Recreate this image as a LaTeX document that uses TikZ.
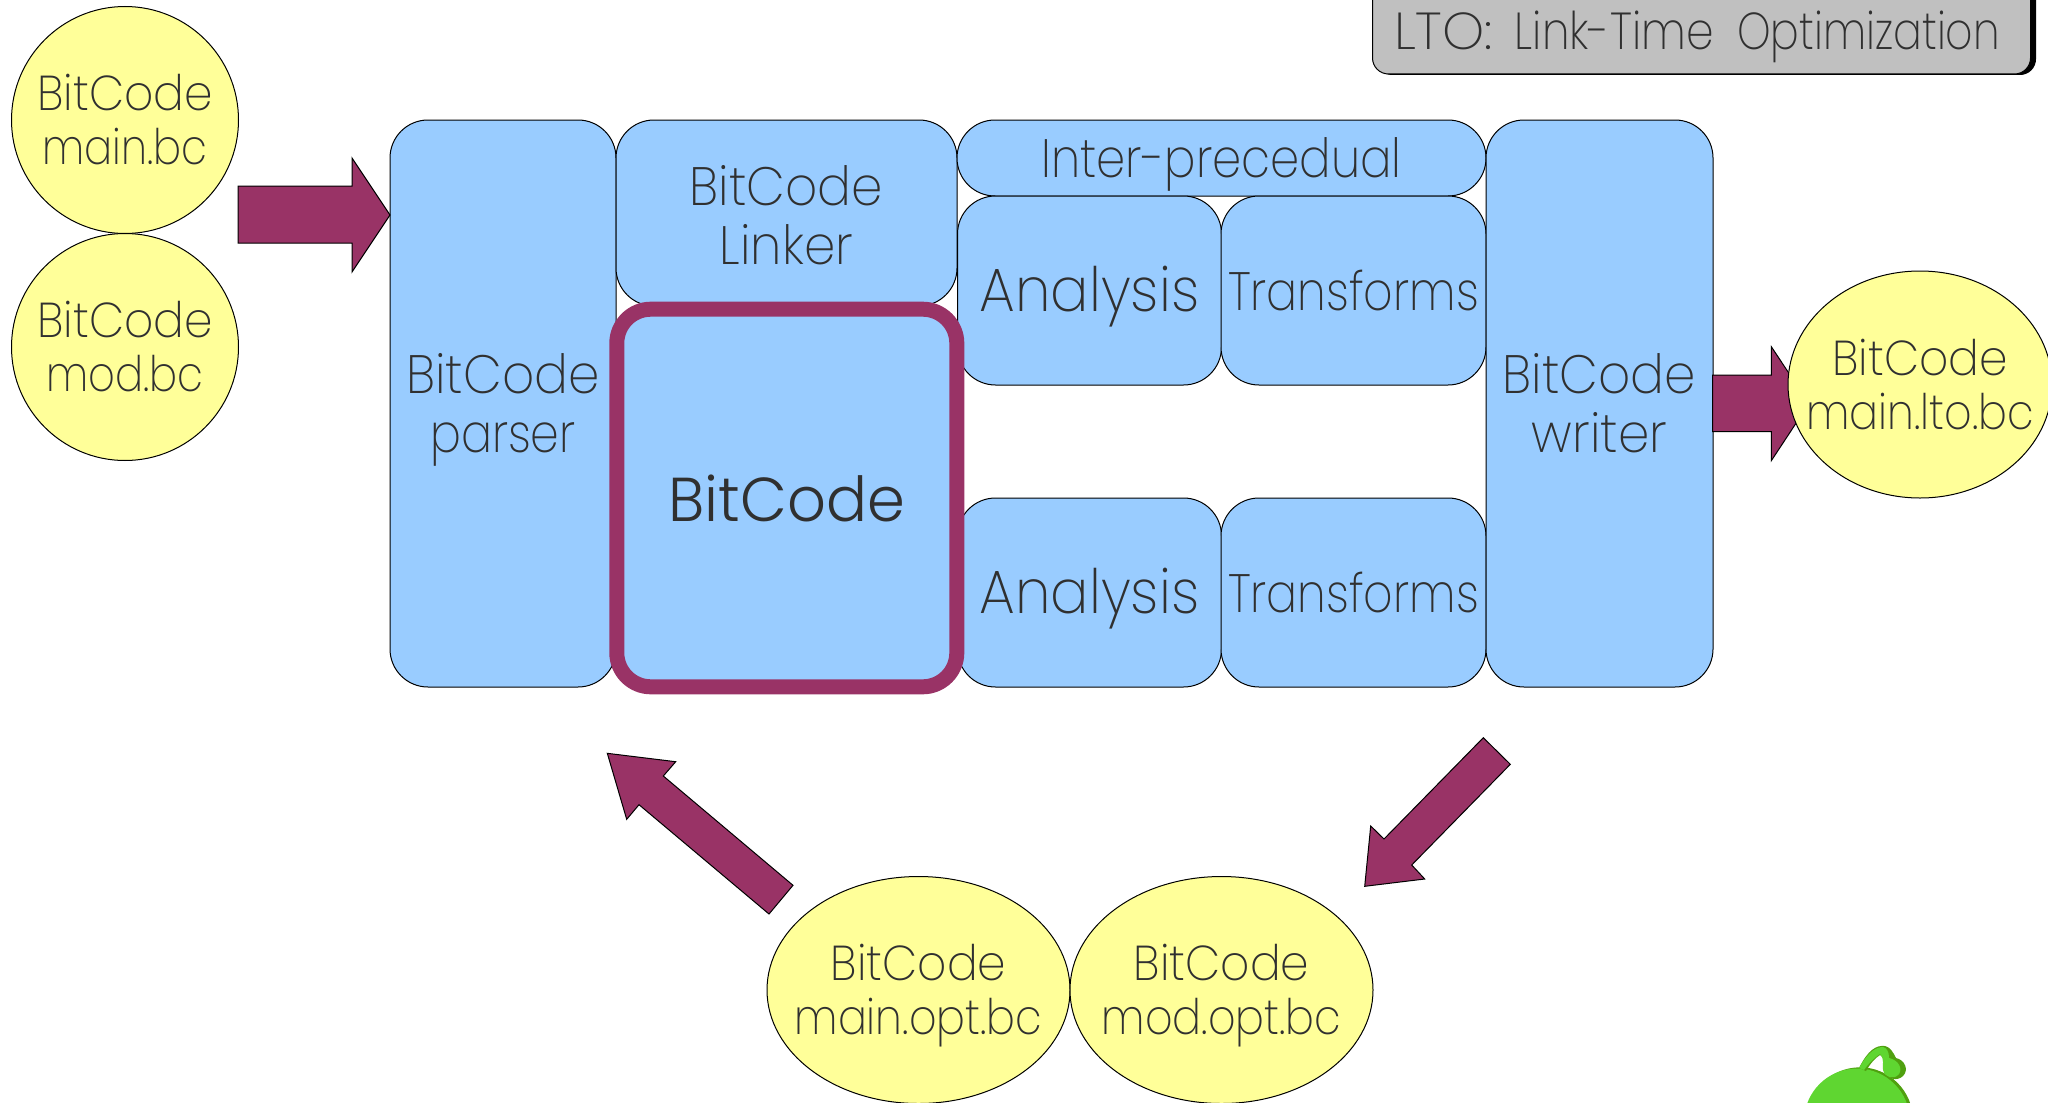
\documentclass[tikz,border=0pt]{standalone}
\usepackage{fontspec}
\setmainfont{Poppins ExtraLight}[FakeStretch=0.93]
\newfontfamily\nfont{Poppins ExtraLight}[FakeStretch=0.85]
\newfontfamily\mfont{Poppins ExtraLight}[FakeStretch=0.875]
\newfontfamily\ifont{Poppins ExtraLight}[FakeStretch=0.865]
\newfontfamily\ltofont{Poppins ExtraLight}[FakeStretch=1.03]
\newfontfamily\linkfont{Poppins ExtraLight}[FakeStretch=0.85]
\newfontfamily\optfont{Poppins ExtraLight}[FakeStretch=0.82]
\newfontfamily\regfont{Poppins Light}[FakeStretch=0.98]
\usetikzlibrary{shapes.geometric}
\definecolor{ablue}{HTML}{99CCFF}
\definecolor{ayellow}{HTML}{FFFF99}
\definecolor{aplum}{HTML}{993366}
\definecolor{agrey}{HTML}{C0C0C0}
\definecolor{atext}{HTML}{303030}
\definecolor{agreen}{HTML}{5FD631}
\definecolor{adkgreen}{HTML}{4FA00F}
\tikzset{
  x=0.5pt,y=-0.5pt,
  every node/.style={text=atext,align=center,inner sep=0pt,outer sep=0pt},
  bub/.style={ellipse,draw=black,line width=0.5pt,fill=ayellow},
  bubtext/.style={font=\fontsize{24.5}{27}\selectfont},
  blk/.style={rectangle,draw=black,line width=0.5pt,fill=ablue,rounded corners=19pt},
  blktext/.style={font=\fontsize{27}{29.5}\selectfont},
  antext/.style={font=\fontsize{30.6}{32}\selectfont},
  trtext/.style={font=\nfont\fontsize{27}{29}\selectfont},
  blockarrow/.style={draw=black,line width=0.5pt,fill=aplum,line join=miter},
}
\begin{document}
\begin{tikzpicture}
\useasboundingbox (0,0) rectangle (2048,1102);
% title
\fill[black,rounded corners=8pt] (1376,-40) rectangle (2036,75);
\node[rectangle,draw=black,line width=0.5pt,fill=agrey,rounded corners=8pt,minimum width=329pt,minimum height=72pt,anchor=south west] (title) at (1372.5,74) {};
\node[anchor=base west,font=\fontsize{26}{27}\selectfont] (titletext) at (1394,49.5) {{\ltofont LTO:}\hspace{11pt}{\linkfont Link-Time}\hspace{11.7pt}{\optfont Optimization}};
% input bubbles
\node[bub,minimum width=113.5pt,minimum height=113.5pt] (main) at (125,120) {};
\node[bubtext] (maintext) at (main) {BitCode\\{\nfont main.bc}};
\node[bub,minimum width=113.5pt,minimum height=113.5pt] (mod) at (125,347) {};
\node[bubtext] (modtext) at (mod) {BitCode\\{\nfont mod.bc}};
% blocks
\node[blk,minimum width=113pt,minimum height=283.5pt] (parser) at (503,403.5) {};
\node[blktext,yshift=-3pt] (parsertext) at (parser) {BitCode\\{\nfont parser}};
\node[blk,minimum width=170.5pt,minimum height=93pt] (linker) at (786.5,213) {};
\node[blktext,yshift=-1pt] (linkertext) at (linker) {BitCode\\Linker};
\node[blk,minimum width=264.5pt,minimum height=38pt] (inter) at (1221.5,158) {};
\node[font=\ifont\fontsize{27}{29}\selectfont,yshift=-3pt] (intertext) at (inter) {Inter-precedual};
\node[blk,minimum width=132pt,minimum height=94.5pt] (an1) at (1089.5,290.5) {};
\node[antext,yshift=-3pt] (an1text) at (an1) {Analysis};
\node[blk,minimum width=132.5pt,minimum height=94.5pt] (tr1) at (1353.5,290.5) {};
\node[trtext] (tr1text) at (tr1) {Transforms};
\node[blk,minimum width=132pt,minimum height=94.5pt] (an2) at (1089.5,592.5) {};
\node[antext,yshift=-3pt] (an2text) at (an2) {Analysis};
\node[blk,minimum width=132.5pt,minimum height=94.5pt] (tr2) at (1353.5,592.5) {};
\node[trtext] (tr2text) at (tr2) {Transforms};
\node[blk,minimum width=113.5pt,minimum height=283.5pt] (writer) at (1599.5,403.5) {};
\node[blktext] (writertext) at (writer) {BitCode\\writer};
\node[rectangle,draw=aplum,line width=7.5pt,fill=ablue,rounded corners=17pt,minimum width=170pt,minimum height=188.8pt,font=\regfont\fontsize{31}{33}\selectfont] (core) at (786.8,498) {BitCode};
% arrows
\draw[blockarrow] (238,186) -- (352,186) -- (352,158) -- (390,215) -- (352,272) -- (352,243) -- (238,243) -- cycle;
\draw[blockarrow] (1712.7,375) -- (1771.3,375) -- (1771.3,346.7) -- (1809,403.5) -- (1771.3,460.7) -- (1771.3,431.7) -- (1712.7,431.7) -- cycle;
\draw[blockarrow] (1483.3,737.7) -- (1510.3,764.3) -- (1411.7,865) -- (1424.7,879) -- (1364.7,886.3) -- (1370.7,826) -- (1384,839) -- cycle;
\draw[blockarrow] (607.3,753.3) -- (675.7,761.7) -- (663.3,776) -- (793,885.3) -- (769,914) -- (639,804.7) -- (626.7,819.3) -- cycle;
% output bubbles
\node[bub,minimum width=132pt,minimum height=113.5pt] (lto) at (1920,384.5) {};
\node[bubtext] (ltotext) at (lto) {BitCode\\{\mfont main.lto.bc}};
\node[bub,minimum width=151.5pt,minimum height=113.5pt] (mainopt) at (918.5,990) {};
\node[bubtext,yshift=-3pt] (mainopttext) at (mainopt) {BitCode\\{\mfont main.opt.bc}};
\node[bub,minimum width=151.5pt,minimum height=113.5pt] (modopt) at (1221.5,990) {};
\node[bubtext,yshift=-3pt] (modopttext) at (modopt) {BitCode\\{\mfont mod.opt.bc}};
% green mascot
\fill[adkgreen] (1860,1120.3) ellipse[x radius=26.5pt,y radius=26.5pt];
\fill[agreen] (1857,1121.5) ellipse[x radius=26.5pt,y radius=26.5pt];
\fill[adkgreen] (1859,1068) .. controls (1868,1050) and (1876,1045) .. (1885,1046) .. controls (1890,1047) and (1893,1052) .. (1896,1058) .. controls (1905,1060) and (1909,1070) .. (1903,1076) .. controls (1898,1081) and (1888,1080) .. (1885,1072) .. controls (1884,1066) and (1887,1060) .. (1880,1055) .. controls (1875,1058) and (1870,1064) .. (1866,1071) -- cycle;
\fill[agreen] (1859,1068) .. controls (1868,1052) and (1876,1047) .. (1883,1047) .. controls (1887,1048) and (1889,1052) .. (1889,1058) .. controls (1898,1060) and (1903,1068) .. (1899,1074) .. controls (1894,1080) and (1885,1078) .. (1883,1070) .. controls (1882,1065) and (1885,1060) .. (1880,1054) .. controls (1874,1058) and (1868,1064) .. (1864,1070) -- cycle;
\end{tikzpicture}
\end{document}
